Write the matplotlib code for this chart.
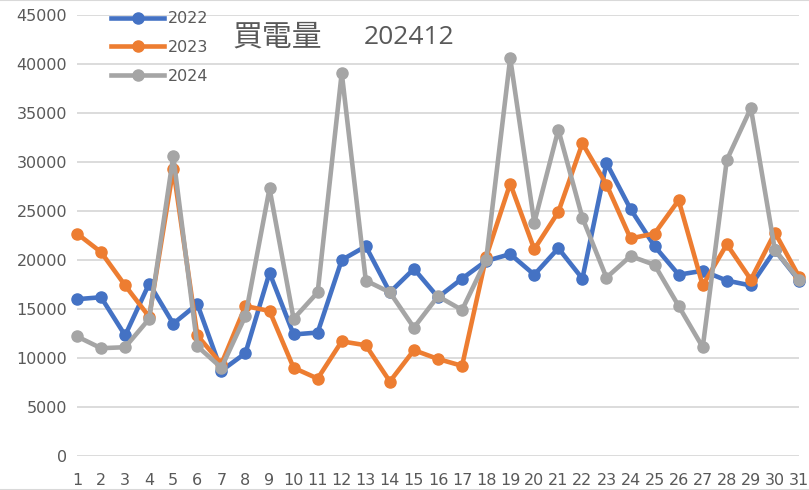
import matplotlib.pyplot as plt
from matplotlib.lines import Line2D

plt.rcParams['font.family'] = ['DejaVu Sans', 'Noto Sans CJK JP']

days = list(range(1, 32))

# daily purchased electricity, December
v2022 = [16000, 16200, 12300, 17600, 13500, 15500, 8700, 10500, 18700, 12400,
         12600, 20000, 21400, 16700, 19100, 16200, 18100, 19900, 20600, 18500,
         21200, 18100, 29900, 25200, 21400, 18500, 18900, 17900, 17400, 21000, 17900]
v2023 = [22700, 20800, 17400, 14200, 29300, 12300, 9400, 15300, 14800, 9000,
         7900, 11700, 11300, 7600, 10800, 9900, 9200, 20300, 27800, 21100,
         24900, 31900, 27700, 22200, 22700, 26100, 17400, 21600, 18000, 22800, 18300]
v2024 = [12200, 11000, 11100, 14000, 30600, 11200, 9000, 14300, 27300, 14000,
         16700, 39100, 17900, 16700, 13100, 16300, 14900, 20000, 40600, 23800,
         33300, 24300, 18200, 20400, 19500, 15300, 11100, 30200, 35500, 21000, 18000]

series = [('2022', v2022, '#4472C4'),
          ('2023', v2023, '#ED7D31'),
          ('2024', v2024, '#A5A5A5')]

fig = plt.figure(figsize=(8.09, 4.90), dpi=100)
ax = fig.add_axes([77/809, 34/490, 722/809, 441/490])

for name, vals, col in series:
    ax.plot(days, vals, color=col, lw=3.3, marker='o', ms=8, label=name,
            solid_joinstyle='round', clip_on=False)

ax.set_xlim(1, 31)
ax.set_ylim(0, 45000)
ax.set_yticks(range(0, 45001, 5000))
ax.set_xticks(days)
ax.grid(axis='y', color='#D9D9D9', lw=1.3)
ax.set_axisbelow(True)
for s in ax.spines.values():
    s.set_visible(False)
ax.tick_params(length=0, labelsize=11.5, labelcolor='#595959', pad=7)
ax.tick_params(axis='x', pad=12)

# title: kanji part and number part
fig.text(232/809, 1 - 37/490, '買電量', fontsize=21.5, color='#595959',
         family=['Noto Sans CJK JP', 'DejaVu Sans'], ha='left', va='center')
fig.text(364/809, 1 - 37/490, '202412', fontsize=19, color='#595959',
         family=['Open Sans', 'DejaVu Sans'], ha='left', va='center')

ax.legend(loc='upper left', bbox_to_anchor=(97/809, 1 + 3/490),
          bbox_transform=fig.transFigure, frameon=False, fontsize=11.5,
          handlelength=3.3, labelspacing=0.85, handletextpad=0.25,
          labelcolor='#595959')

fig.add_artist(Line2D([0, 1], [0.999, 0.999], color='#D9D9D9', lw=1.5))
fig.add_artist(Line2D([0, 1], [0.001, 0.001], color='#D9D9D9', lw=1.5))

fig.savefig('out.png', dpi=100)
